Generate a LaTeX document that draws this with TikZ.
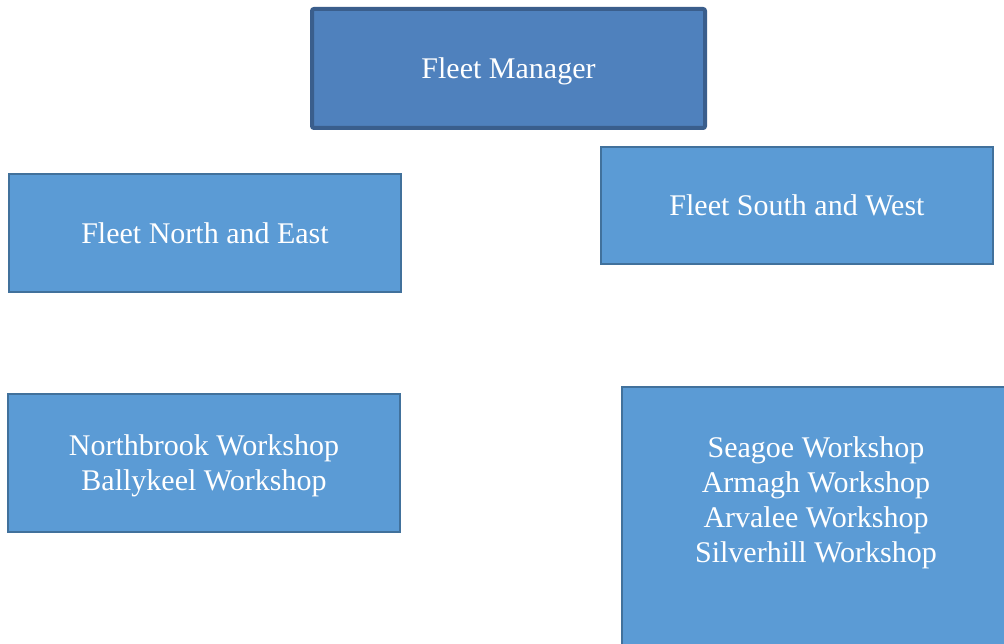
\documentclass[tikz,border=0pt]{standalone}
\usepackage{fontspec}
\setmainfont{Liberation Serif}
\definecolor{topfill}{HTML}{4F81BD}
\definecolor{topline}{HTML}{3A5E8C}
\definecolor{boxfill}{HTML}{5B9BD5}
\definecolor{boxline}{HTML}{41719C}
\tikzset{
  box/.style={draw=boxline, fill=boxfill, line width=2pt, inner sep=0pt, text=white, align=center, text depth=0pt, font=\fontsize{30}{35}\selectfont},
  topbox/.style={box, draw=topline, fill=topfill, line width=4pt, rounded corners=2pt},
  txt/.style={text=white, align=center, inner sep=0pt, font=\fontsize{30}{35}\selectfont}
}
\begin{document}
\begin{tikzpicture}[x=1pt,y=-1pt]
\path[use as bounding box, fill=white] (0,0) rectangle (1004,644);
\clip (0,0) rectangle (1004,644);
\node[topbox, minimum width=393pt, minimum height=119pt] (fm) at (508.5,68.5) {Fleet Manager};
\node[box, minimum width=392pt, minimum height=118pt] (ne) at (205,233) {Fleet North and East};
\node[box, minimum width=392pt, minimum height=117pt] (sw) at (797,205.5) {Fleet South and West};
\node[box, minimum width=392pt, minimum height=138pt] (nb) at (204,463) {Northbrook Workshop\\Ballykeel Workshop};
\node[box, minimum width=390pt, minimum height=300pt, anchor=north west] (sg) at (621,386) {};
\node[txt] (sgt) at (816,503) {Seagoe Workshop\\Armagh Workshop\\Arvalee Workshop\\Silverhill Workshop};
\end{tikzpicture}
\end{document}
